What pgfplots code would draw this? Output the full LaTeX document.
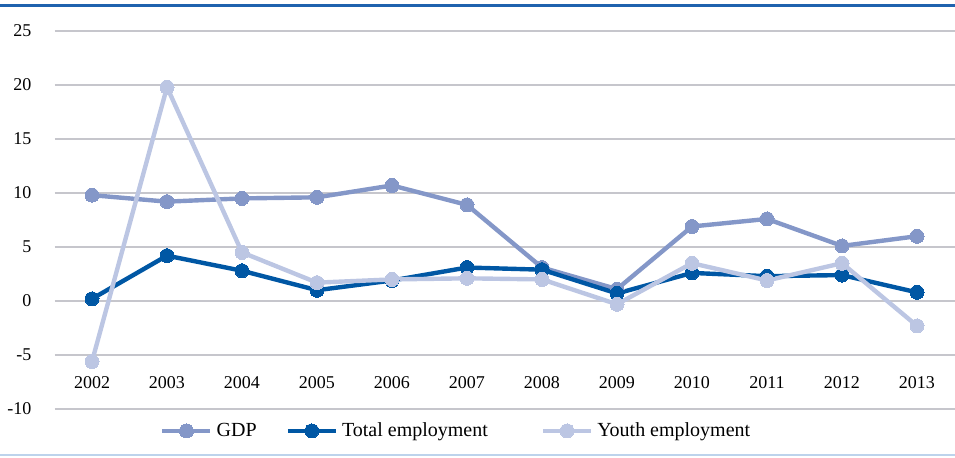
\documentclass[border=0pt]{standalone}
\usepackage{fontspec}
\setmainfont{Liberation Serif}
\usepackage{pgfplots}
\pgfplotsset{compat=1.18}
\definecolor{gdp}{HTML}{8497C8}
\definecolor{tot}{HTML}{0057A4}
\definecolor{youth}{HTML}{BCC6E3}
\definecolor{gridc}{HTML}{C6C6CC}
\definecolor{topb}{HTML}{1F62AE}
\definecolor{botb}{HTML}{BDD3EC}
\begin{document}
\begin{tikzpicture}
\path[use as bounding box] (0,0) rectangle (477.5pt,-228.5pt);
\draw[topb, line width=1.5pt] (0,-2.5pt) -- (477.5pt,-2.5pt);
\draw[botb, line width=1pt] (0,-227.5pt) -- (477.5pt,-227.5pt);
\begin{axis}[
  at={(27.25pt,-15.5pt)}, anchor=north west,
  scale only axis, width=450pt, height=189pt,
  xmin=2001.5, xmax=2013.5, ymin=-10, ymax=25,
  xtick={2002,...,2013}, ytick={-10,-5,...,25},
  axis line style={draw=none},
  major tick length=0pt,
  ymajorgrids, grid style={gridc, line width=1pt},
  /pgf/number format/assume math mode=true,
  /pgf/number format/1000 sep={},
  tick label style={font=\fontsize{9}{10}\selectfont, text=black},
  xticklabel style={anchor=center, yshift=13pt},
  yticklabel style={xshift=-8pt},
  legend style={at={(0.4475,-0.058)}, anchor=center, draw=none, fill=none,
    font=\fontsize{10}{11}\selectfont, legend columns=-1,
    /tikz/column 2/.style={column sep=12.5pt},
    /tikz/column 4/.style={column sep=24.5pt}},
  legend image code/.code={\draw[mark repeat=2,mark phase=2] plot coordinates {(0pt,0pt) (12pt,0pt) (24pt,0pt)};},
  every axis plot/.append style={line width=2.2pt, mark=*, mark size=3.5pt},
]
\addplot[gdp, mark options={fill=gdp, draw=gdp, line width=0pt}] coordinates {
(2002,9.8) (2003,9.2) (2004,9.5) (2005,9.6) (2006,10.7) (2007,8.9)
(2008,3.1) (2009,1.1) (2010,6.9) (2011,7.6) (2012,5.1) (2013,6.0)};
\addlegendentry{GDP}
\addplot[tot, mark options={fill=tot, draw=tot, line width=0pt}] coordinates {
(2002,0.2) (2003,4.2) (2004,2.8) (2005,1.0) (2006,1.9) (2007,3.1)
(2008,2.9) (2009,0.7) (2010,2.6) (2011,2.3) (2012,2.4) (2013,0.8)};
\addlegendentry{Total employment}
\addplot[youth, mark options={fill=youth, draw=youth, line width=0pt}] coordinates {
(2002,-5.6) (2003,19.8) (2004,4.5) (2005,1.7) (2006,2.0) (2007,2.1)
(2008,2.0) (2009,-0.3) (2010,3.5) (2011,1.9) (2012,3.5) (2013,-2.3)};
\addlegendentry{Youth employment}
\end{axis}
\end{tikzpicture}
\end{document}
